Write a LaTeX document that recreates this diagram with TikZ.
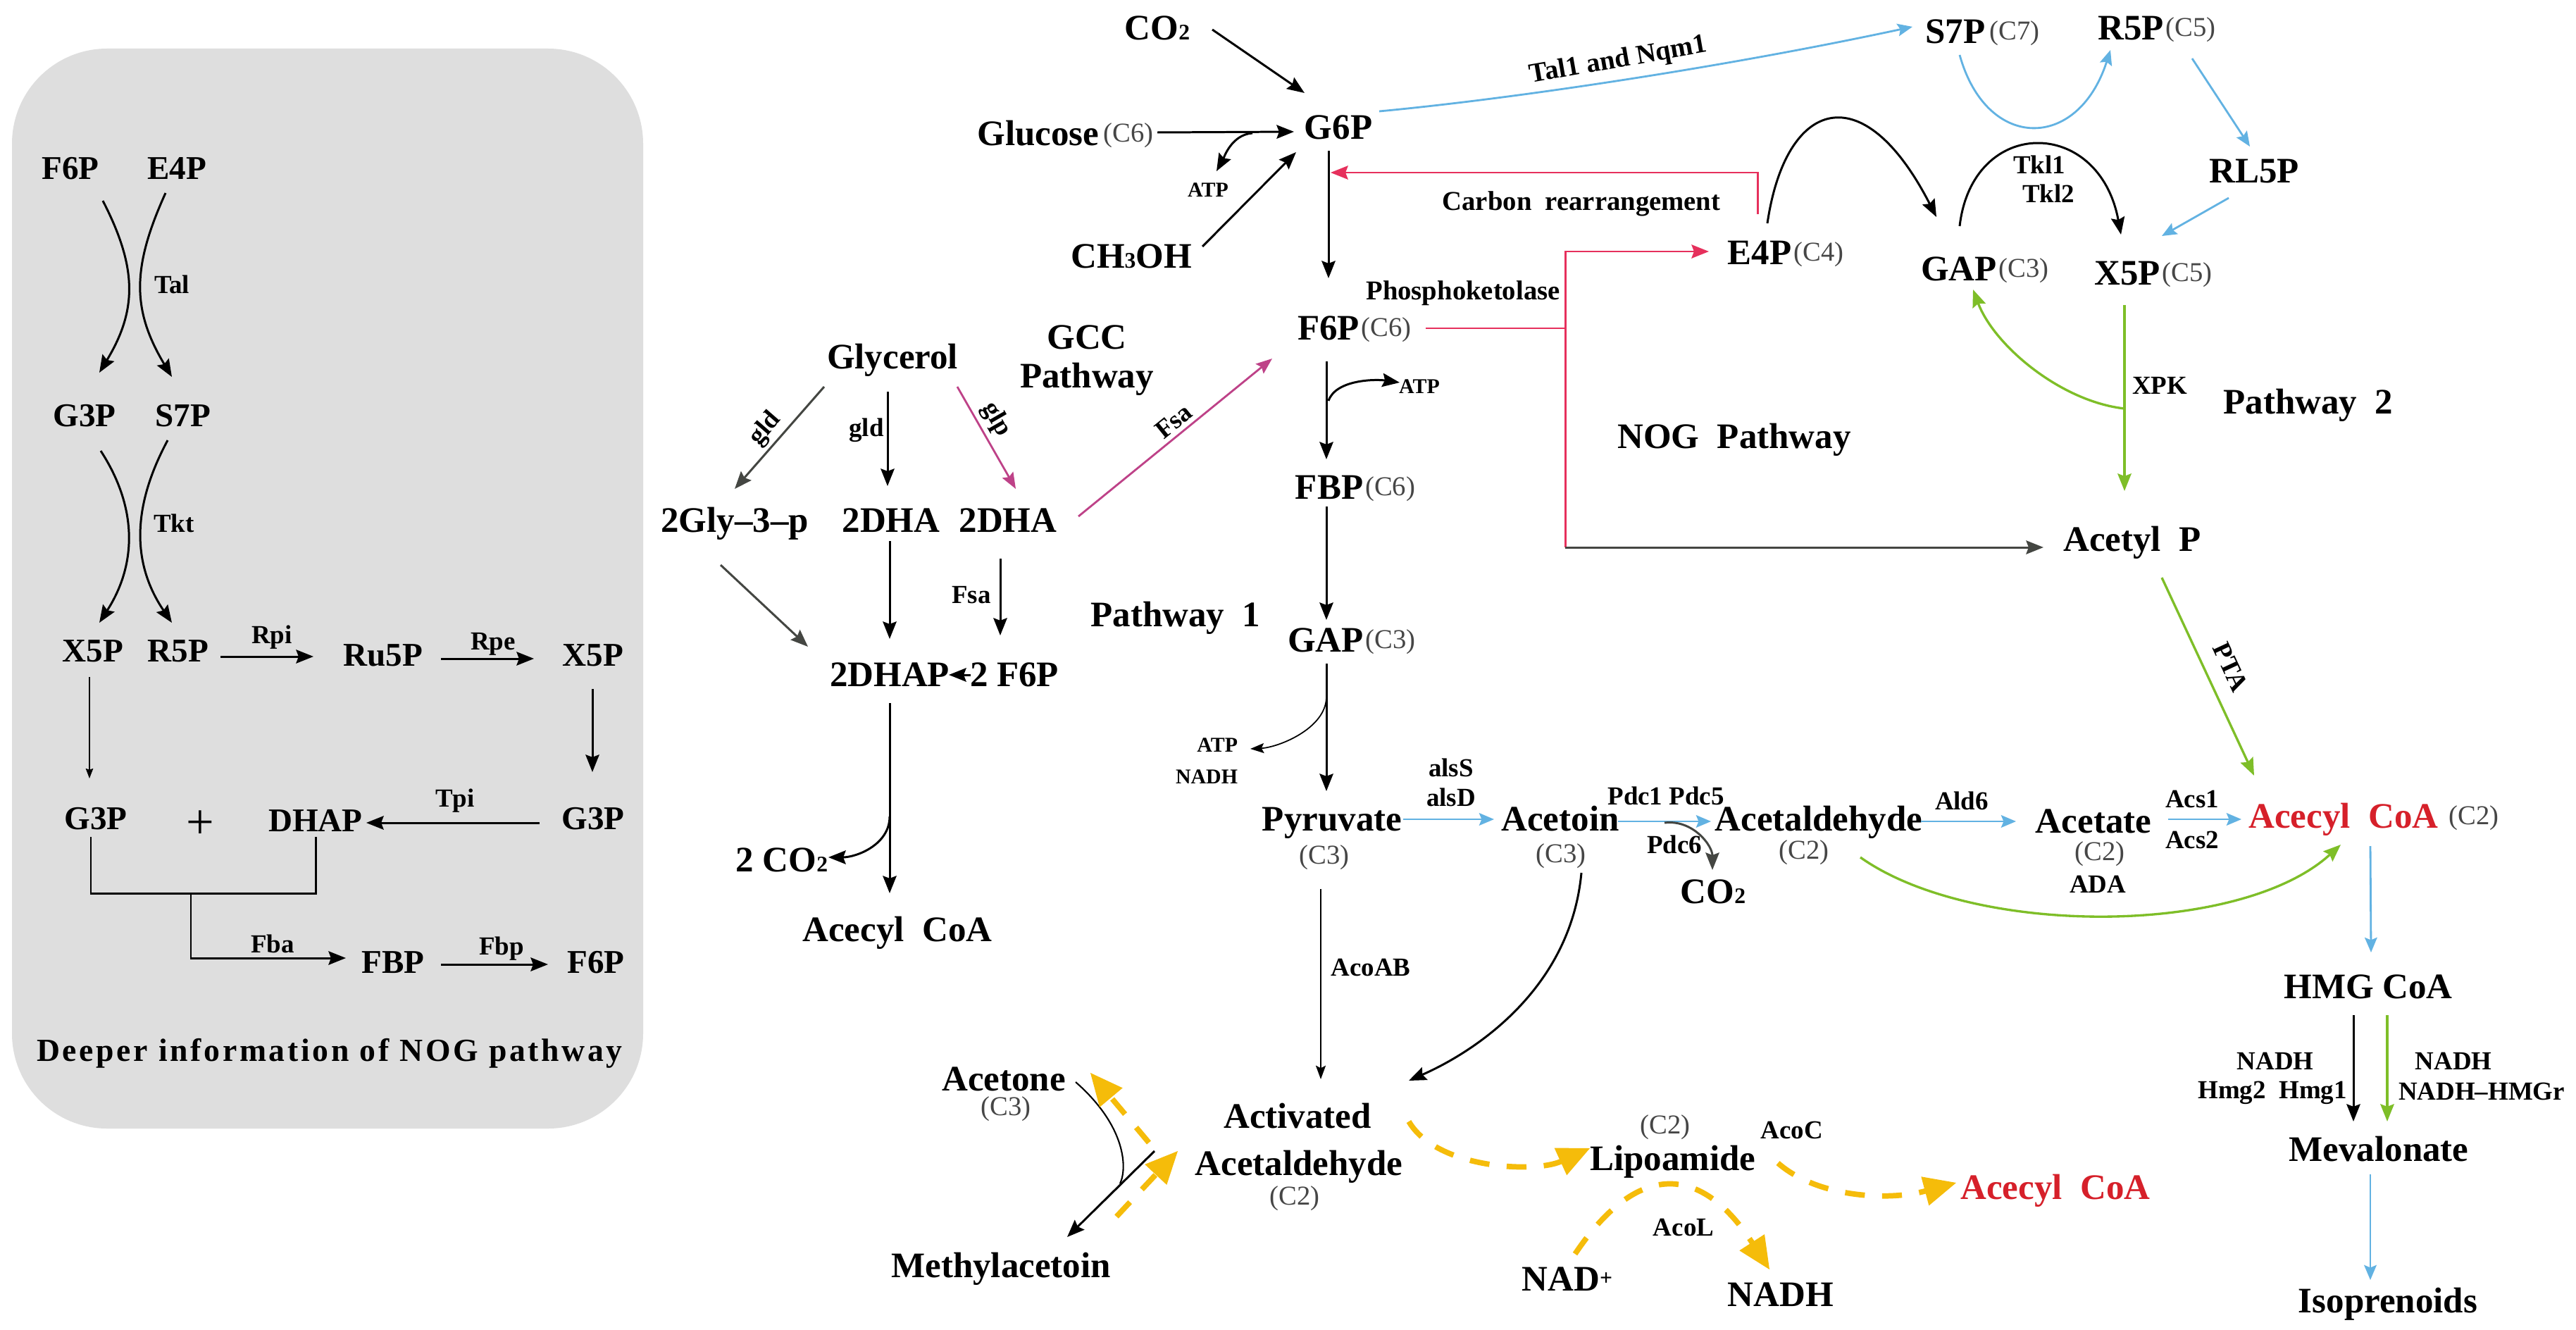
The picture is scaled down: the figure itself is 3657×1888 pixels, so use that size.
\documentclass[tikz,border=0pt]{standalone}
\usepackage{fontspec}
\setmainfont{Liberation Serif}
\usetikzlibrary{arrows.meta,calc}
\definecolor{lblue}{RGB}{98,178,226}
\definecolor{pnk}{RGB}{230,48,92}
\definecolor{mgn}{RGB}{190,66,136}
\definecolor{lgreen}{RGB}{126,190,40}
\definecolor{yel}{RGB}{245,188,10}
\definecolor{redtxt}{RGB}{214,32,42}
\definecolor{dkgray}{RGB}{68,70,66}
\definecolor{panelgray}{RGB}{222,222,222}
\definecolor{ccgray}{RGB}{70,70,70}
\newcommand\chemsub[1]{{\fontsize{9}{9}\selectfont #1}}
\tikzset{
  every node/.style={inner sep=0pt, outer sep=0pt},
  big/.style={font=\fontsize{14.5}{16}\selectfont\bfseries, text height=9.6pt, text depth=0pt},
  bigm/.style={font=\fontsize{14.5}{15.6}\selectfont\bfseries, align=center},
  pnl/.style={font=\fontsize{13.4}{15}\selectfont\bfseries, text height=8.9pt, text depth=0pt},
  sm/.style={font=\fontsize{10.5}{12}\selectfont\bfseries, text height=7pt, text depth=0pt},
  smm/.style={font=\fontsize{10.5}{12}\selectfont\bfseries, align=center},
  tiny/.style={font=\fontsize{8.5}{12.8}\selectfont\bfseries, text height=5.6pt, text depth=0pt},
  tinym/.style={font=\fontsize{8.5}{12.8}\selectfont\bfseries, align=right},
  med/.style={font=\fontsize{11}{13}\selectfont\bfseries, text height=7.3pt, text depth=0pt},
  capt/.style={font=\fontsize{13}{15}\selectfont\bfseries\addfontfeatures{LetterSpace=8}},
  cc/.style={font=\fontsize{11}{12}\selectfont, text=ccgray},
  arr/.style={line width=0.85pt, -{Stealth[length=7pt,width=5.5pt,inset=1pt]}},
  plainline/.style={line width=0.85pt},
  pthin/.style={line width=0.4pt, -{Stealth[length=4pt,width=3pt,inset=0.5pt]}},
  thinarr/.style={line width=0.5pt, -{Stealth[length=5.5pt,width=4pt,inset=1pt]}},
  barr/.style={color=lblue, line width=0.8pt, -{Stealth[length=6pt,width=5pt,inset=1pt]}},
  garr/.style={color=lgreen, line width=0.95pt, -{Stealth[length=7pt,width=5.5pt,inset=1pt]}},
  pkarr/.style={color=pnk, line width=0.85pt, -{Stealth[length=7pt,width=5.5pt,inset=1pt]}},
  pkline/.style={color=pnk, line width=0.85pt},
  marr/.style={color=mgn, line width=0.8pt, -{Stealth[length=6.5pt,width=5pt,inset=1pt]}},
  dgarr/.style={color=dkgray, line width=0.85pt, -{Stealth[length=7pt,width=5.5pt,inset=1pt]}},
  yarr/.style={color=yel, line width=2.2pt, dash pattern=on 8pt off 7pt, -{Triangle[length=13pt,width=12pt,line width=0.4pt]}},
}
\begin{document}
\begin{tikzpicture}[x=0.01cm,y=-0.01cm]
\useasboundingbox (0,0) rectangle (3657,1888);
\fill[white] (0,0) rectangle (3657,1888);
% ---------- panel ----------
\fill[panelgray, rounded corners=1.35cm] (17,69) rectangle (913,1602);
\node[pnl] (pF6P) at (100,239) {F6P};
\node[pnl] (pE4P) at (251,239) {E4P};
\node[sm] (pTal) at (244,404) {Tal};
\node[pnl] (pG3P) at (120,590) {G3P};
\node[pnl] (pS7P) at (260,590) {S7P};
\node[sm] (pTkt) at (247,743) {Tkt};
\node[pnl] (pX5P) at (132,924) {X5P};
\node[pnl] (pR5P) at (253,924) {R5P};
\node[pnl] (pRu5P) at (544,930) {Ru5P};
\node[pnl] (pX5Pb) at (842,930) {X5P};
\node[sm] (pRpi) at (386,901) {Rpi};
\node[sm] (pRpe) at (700,910) {Rpe};
\node[pnl] (pG3Pb) at (842,1162) {G3P};
\node[sm] (pTpi) at (646,1133) {Tpi};
\node[pnl] (pDHAP) at (448,1165) {DHAP};
\node[font=\fontsize{20}{20}\selectfont] (pplus) at (284,1171) {+};
\node[pnl] (pG3Pa) at (136,1162) {G3P};
\node[pnl] (pFBP) at (558,1366) {FBP};
\node[sm] (pFba) at (387,1340) {Fba};
\node[sm] (pFbp) at (712,1343) {Fbp};
\node[pnl] (pF6Pb) at (846,1366) {F6P};
\node[capt] (pcap) at (468,1495) {Deeper information of NOG pathway};
\draw[arr] ($(pF6P)+(46,46)$) .. controls ($(pF6P)+(95,141)$) and ($(pG3P)+(75,-150)$) .. ($(pG3P)+(21,-61)$);
\draw[arr] ($(pE4P)+(-16,35)$) .. controls ($(pE4P)+(-64,141)$) and ($(pS7P)+(-73,-150)$) .. ($(pS7P)+(-16,-55)$);
\draw[arr] ($(pG3P)+(23,50)$) .. controls ($(pG3P)+(75,130)$) and ($(pX5P)+(63,-124)$) .. ($(pX5P)+(9,-40)$);
\draw[arr] ($(pS7P)+(-22,35)$) .. controls ($(pS7P)+(-73,130)$) and ($(pR5P)+(-66,-124)$) .. ($(pR5P)+(-9,-40)$);
\draw[arr] ($(pR5P)+(60,8)$) -- ($(pRu5P)+(-99,2)$);
\draw[arr] ($(pRu5P)+(82,5)$) -- ($(pX5Pb)+(-84,5)$);
\draw[arr] ($(pX5Pb)+(-1,48)$) -- ($(pG3Pb)+(-1,-66)$);
\draw[arr] ($(pG3Pb)+(-76,6)$) -- ($(pDHAP)+(72,3)$);
\draw[pthin] ($(pX5P)+(-5,37)$) -- ($(pG3Pa)+(-9,-57)$);
\draw[plainline] ($(pG3Pa)+(-7,26)$) |- ($(pDHAP)+(0,103)$) -- ($(pDHAP)+(0,23)$);
\draw[arr] ($(pG3Pa)+(135,106)$) |- ($(pFBP)+(-67,-6)$);
\draw[arr] ($(pFBP)+(68,3)$) -- ($(pF6Pb)+(-68,3)$);
% ---------- main nodes ----------
\node[big] (CO2) at (1643,40) {CO\chemsub{2}};
\node[big] (G6P) at (1900,181) {G6P};
\node[big] (Glu) at (1474,190) {Glucose};
\node[cc, anchor=base west] (Gluc) at ($(Glu.base east)+(6,-5)$) {(C6)};
\node[tiny] (ATPg) at (1715,270) {ATP};
\node[big] (MeOH) at (1606,364) {CH\chemsub{3}OH};
\node[big] (Gly) at (1267,507) {Glycerol};
\node[bigm] (GCC) at (1543,512) {GCC\\Pathway};
\node[big] (E4P) at (2498,359) {E4P};
\node[cc, anchor=base west] (E4Pc) at ($(E4P.base east)+(3,-5)$) {(C4)};
\node[med] (carb) at (2245,286) {Carbon\ \ rearrangement};
\node[med] (phos) at (2077,413) {Phosphoketolase};
\node[big] (F6P) at (1886,466) {F6P};
\node[cc, anchor=base west] (F6Pc) at ($(F6P.base east)+(3,-5)$) {(C6)};
\node[tiny] (ATPf) at (2015,549) {ATP};
\node[big] (FBP) at (1887,692) {FBP};
\node[cc, anchor=base west] (FBPc) at ($(FBP.base east)+(3,-5)$) {(C6)};
\node[big] (NOG) at (2462,620) {NOG\ \ Pathway};
\node[big] (GAPm) at (1882,909) {GAP};
\node[cc, anchor=base west] (GAPmc) at ($(GAPm.base east)+(3,-5)$) {(C3)};
\node[big] (PW1) at (1669,873) {Pathway\ \ 1};
\node[tinym] (ATPN) at (1713,1080) {ATP\\NADH};
\node[big] (Pyr) at (1891,1163) {Pyruvate};
\node[cc] (Pyrc) at (1880,1217) {(C3)};
\node[smm] (als) at (2060,1111) {alsS\\alsD};
\node[big] (Acn) at (2215,1163) {Acetoin};
\node[cc] (Acnc) at (2216,1215) {(C3)};
\node[sm] (pdc15) at (2365,1130) {Pdc1 Pdc5};
\node[sm] (pdc6) at (2377,1199) {Pdc6};
\node[big] (CO2b) at (2432,1266) {CO\chemsub{2}};
\node[big] (Ald) at (2582,1163) {Acetaldehyde};
\node[cc] (Aldc) at (2561,1210) {(C2)};
\node[sm] (ald6) at (2785,1137) {Ald6};
\node[big] (Act) at (2972,1166) {Acetate};
\node[cc] (Actc) at (2981,1212) {(C2)};
\node[sm] (ADA) at (2978,1255) {ADA};
\node[sm] (acs1) at (3112,1134) {Acs1};
\node[sm] (acs2) at (3112,1192) {Acs2};
\node[big, text=redtxt] (ACoA) at (3327,1159) {Acecyl\ \ CoA};
\node[cc, anchor=base west] (ACoAc) at ($(ACoA.base east)+(15,-5)$) {(C2)};
\node[big] (AcP) at (3027,766) {Acetyl\ \ P};
\node[big] (S7P) at (2776,45) {S7P};
\node[cc, anchor=base west] (S7Pc) at ($(S7P.base east)+(6,-5)$) {(C7)};
\node[big] (R5P) at (3025,40) {R5P};
\node[cc, anchor=base west] (R5Pc) at ($(R5P.base east)+(3,-5)$) {(C5)};
\node[big] (RL5P) at (3200,243) {RL5P};
\node[big] (GAPr) at (2781,382) {GAP};
\node[cc, anchor=base west] (GAPrc) at ($(GAPr.base east)+(3,-5)$) {(C3)};
\node[big] (X5P) at (3020,388) {X5P};
\node[cc, anchor=base west] (X5Pc) at ($(X5P.base east)+(3,-5)$) {(C5)};
\node[sm] (tkl1) at (2895,234) {Tkl1};
\node[sm] (tkl2) at (2908,275) {Tkl2};
\node[sm] (XPK) at (3066,547) {XPK};
\node[big] (PW2) at (3277,571) {Pathway\ \ 2};
\node[sm, rotate=-65] (PTA) at (3167,947) {PTA};
\node[big] (HMG) at (3362,1401) {HMG CoA};
\node[sm] (nadhl) at (3230,1506) {NADH};
\node[sm] (hmg) at (3226,1547) {Hmg2\ \ Hmg1};
\node[sm] (nadhr) at (3483,1506) {NADH};
\node[sm] (hmgr) at (3523,1549) {NADH\textendash HMGr};
\node[big] (Mev) at (3377,1632) {Mevalonate};
\node[big] (Iso) at (3390,1847) {Isoprenoids};
\node[big] (G3p) at (1043,739) {2Gly\textendash3\textendash p};
\node[big] (DHA1) at (1265,739) {2DHA};
\node[big] (DHA2) at (1431,739) {2DHA};
\node[sm] (fsa1) at (1379,844) {Fsa};
\node[big] (DHAP) at (1263,958) {2DHAP};
\node[big] (F6P2) at (1440,958) {2 F6P};
\node[big] (CO2L) at (1110,1221) {2 CO\chemsub{2}};
\node[big] (ACoAL) at (1274,1320) {Acecyl\ \ CoA};
\node[sm] (acoab) at (1946,1373) {AcoAB};
\node[big] (Acetone) at (1425,1532) {Acetone};
\node[cc] (Acetonec) at (1428,1574) {(C3)};
\node[big] (Actv) at (1842,1585) {Activated};
\node[big] (AAld) at (1844,1652) {Acetaldehyde};
\node[cc] (AAldc) at (1838,1701) {(C2)};
\node[big] (Meth) at (1421,1797) {Methylacetoin};
\node[big] (Lipo) at (2375,1645) {Lipoamide};
\node[cc] (Lipoc) at (2364,1600) {(C2)};
\node[sm] (acoc) at (2544,1604) {AcoC};
\node[sm] (acol) at (2390,1742) {AcoL};
\node[big] (NAD) at (2225,1816) {NAD\raisebox{2.5pt}{\chemsub{+}}};
\node[big] (NADH) at (2528,1838) {NADH};
\node[big, text=redtxt] (ACoA2) at (2918,1686) {Acecyl\ \ CoA};
\node[sm, rotate=49] (gld1) at (1084,607) {gld};
\node[sm] (gld2) at (1230,607) {gld};
\node[sm, rotate=-60] (glp) at (1417,594) {glp};
\node[sm, rotate=39] (fsa2) at (1666,598) {Fsa};
\node[med, rotate=10] (taln) at (2297,83) {Tal1\ and\ Nqm1};
% ---------- main connectors ----------
\draw[arr] ($(CO2)+(78,2)$) -- ($(G6P)+(-48,-49)$);
\draw[arr] ($(Glu)+(169,-2)$) -- ($(G6P)+(-63,6)$);
\draw[arr] ($(G6P)+(-122,8)$) .. controls ($(G6P)+(-152,10)$) and ($(ATPg)+(22,-45)$) .. ($(ATPg)+(12,-27)$);
\draw[arr] ($(MeOH)+(101,-14)$) -- ($(G6P)+(-60,35)$);
\draw[arr] ($(G6P)+(-14,33)$) -- ($(F6P)+(0,-71)$);
\draw[barr] ($(G6P)+(58,-23)$) .. controls (2150,140) and (2450,95) .. ($(S7P)+(-61,-7)$);
\draw[pkarr] ($(E4P)+(-3,-55)$) |- ($(G6P)+(-11,64)$);
\draw[arr] ($(E4P)+(11,-42)$) .. controls (2535,140) and (2645,105) .. ($(GAPr)+(-32,-74)$);
\draw[pkarr] ($(F6P)+(138,0)$) -- ($(F6P)+(336,0)$) |- ($(E4P)+(-72,-2)$);
\draw[pkline] ($(F6P)+(336,0)$) -- ($(F6P)+(336,311)$);
\draw[dgarr] ($(F6P)+(336,311)$) -- ($(AcP)+(-126,11)$);
\draw[arr] ($(F6P)+(-3,47)$) -- ($(FBP)+(-4,-40)$);
\draw[arr] ($(F6P)+(0,103)$) .. controls +(10,-30) and +(-35,-5) .. ($(ATPf)+(-28,-6)$);
\draw[arr] ($(FBP)+(-4,27)$) -- ($(GAPm)+(1,-29)$);
\draw[arr] ($(GAPm)+(1,33)$) -- ($(Pyr)+(-8,-40)$);
\draw[thinarr] ($(GAPm)+(1,80)$) .. controls +(0,45) and +(40,-2) .. ($(ATPN)+(62,-17)$);
\draw[barr] ($(Pyr)+(101,0)$) -- ($(Acn)+(-94,0)$);
\draw[barr] ($(Acn)+(82,3)$) -- ($(Ald)+(-153,3)$);
\draw[dgarr] ($(Acn)+(148,5)$) .. controls +(40,-5) and +(0,-35) .. ($(CO2b)+(-1,-31)$);
\draw[barr] ($(Ald)+(145,3)$) -- ($(Act)+(-110,0)$);
\draw[barr] ($(Act)+(106,-3)$) -- ($(ACoA)+(-145,4)$);
\draw[garr] ($(Ald)+(59,54)$) .. controls (2800,1330) and (3180,1330) .. ($(ACoA)+(-4,40)$);
\draw[garr] ($(X5P)+(-4,45)$) -- ($(AcP)+(-11,-69)$);
\draw[garr] ($(X5P)+(-4,192)$) .. controls +(-90,-10) and +(30,80) .. ($(GAPr)+(20,29)$);
\draw[arr] ($(GAPr)+(1,-61)$) .. controls (2800,165) and (2980,165) .. ($(X5P)+(-9,-55)$);
\draw[barr] ($(S7P)+(6,33)$) .. controls (2820,215) and (2950,215) .. ($(R5P)+(-29,31)$);
\draw[barr] ($(R5P)+(87,43)$) -- ($(RL5P)+(-6,-35)$);
\draw[barr] ($(RL5P)+(-36,38)$) -- ($(X5P)+(49,-53)$);
\draw[garr] ($(AcP)+(42,54)$) -- ($(ACoA)+(-127,-58)$);
\draw[barr] ($(ACoA)+(38,42)$) -- ($(HMG)+(4,-49)$);
\draw[arr] ($(HMG)+(-21,40)$) -- ($(Mev)+(-36,-40)$);
\draw[garr] ($(HMG)+(27,40)$) -- ($(Mev)+(12,-40)$);
\draw[barr] ($(Mev)+(-12,35)$) -- ($(Iso)+(-25,-30)$);
% glycerol
\draw[dgarr] ($(Gly)+(-97,42)$) -- ($(G3p)+(0,-45)$);
\draw[arr] ($(Gly)+(-7,49)$) -- ($(DHA1)+(-5,-49)$);
\draw[marr] ($(Gly)+(92,42)$) -- ($(DHA2)+(11,-45)$);
\draw[marr] ($(DHA2)+(100,-6)$) -- ($(F6P)+(-80,43)$);
\draw[dgarr] ($(G3p)+(-20,63)$) -- ($(DHAP)+(-116,-40)$);
\draw[arr] ($(DHA1)+(-2,29)$) -- ($(DHAP)+(0,-51)$);
\draw[arr] ($(DHA2)+(-11,54)$) -- ($(F6P2)+(-20,-56)$);
\draw[arr] ($(F6P2)+(-62,0)$) -- ($(DHAP)+(84,0)$);
\draw[arr] ($(DHAP)+(0,40)$) -- ($(ACoAL)+(-11,-52)$);
\draw[arr] ($(DHAP)+(0,201)$) .. controls +(0,40) and +(40,0) .. ($(CO2L)+(66,-4)$);
% lower part
\draw[thinarr] ($(Pyr)+(-16,99)$) -- ($(Actv)+(33,-53)$);
\draw[arr] ($(Acn)+(30,76)$) .. controls (2230,1400) and (2100,1490) .. ($(Actv)+(158,-51)$);
\draw[line width=0.6pt] ($(Acetone)+(102,4)$) .. controls (1600,1600) and (1600,1660) .. ($(AAld)+(-254,28)$);
\draw[arr] ($(AAld)+(-205,-18)$) -- ($(Meth)+(94,-41)$);
\draw[yarr] ($(Meth)+(164,-70)$) -- ($(AAld)+(-172,-18)$);
\draw[yarr] ($(AAld)+(-213,-30)$) -- ($(Acetone)+(123,-9)$);
\draw[yarr] ($(Actv)+(158,7)$) .. controls (2040,1660) and (2180,1665) .. ($(Lipo)+(-118,-15)$);
\draw[yarr] ($(Lipo)+(149,6)$) .. controls (2580,1700) and (2680,1705) .. ($(ACoA2)+(-141,-7)$);
\draw[yarr] ($(NAD)+(11,-36)$) .. controls (2330,1640) and (2420,1660) .. ($(NADH)+(-16,-36)$);
\end{tikzpicture}
\end{document}
